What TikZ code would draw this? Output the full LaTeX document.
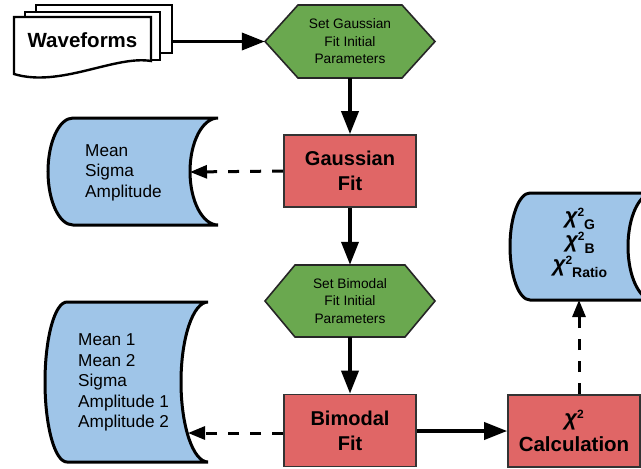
\documentclass[tikz,border=0pt]{standalone}
\usepackage{fontspec}
\setmainfont{Liberation Sans}
\usetikzlibrary{arrows.meta}
\definecolor{sblue}{HTML}{9FC5E8}
\definecolor{sred}{HTML}{E06666}
\definecolor{sgreen}{HTML}{6AA84F}
\newcommand\chisym{{\fontsize{22}{22}\selectfont\bfseries\itshape χ}}
\newcommand\chisup{\raisebox{7.5pt}{\fontsize{12}{12}\selectfont 2}}
\newcommand\chisub[1]{\raisebox{-6pt}{\fontsize{14}{14}\selectfont\bfseries #1}}
\begin{document}
\begin{tikzpicture}[x=1pt,y=-1pt,
  conn/.style={line width=3.6pt, -{Triangle[length=23pt,width=17pt]}},
  dconn/.style={line width=3pt, dash pattern=on 11pt off 11pt, -{Triangle[length=17pt,width=13pt]}},
  procbox/.style={draw=black!80, line width=1.6pt, fill=sred, minimum width=132pt, minimum height=72pt, inner sep=0pt, align=center, font=\fontsize{20}{25}\selectfont\bfseries},
  hexshape/.style={draw=black!85, line width=1.6pt, fill=sgreen},
  hexlabel/.style={minimum width=170pt, minimum height=73pt, inner sep=0pt, align=center, font=\fontsize{13.7}{17.5}\selectfont},
  store/.style={draw=black, line width=3pt, fill=sblue},
  storetext/.style={inner sep=0pt, align=left, anchor=west, font=\fontsize{17.2}{20.5}\selectfont},
  doc/.style={draw=black, line width=2.4pt, fill=white},
]
\useasboundingbox (0,0) rectangle (641,469);

% Waveforms stack
\draw[doc] (36,5) rectangle (172,53);
\draw[doc] (25,12) rectangle (160,60);
\draw[doc] (14,17) -- (151,17) -- (151,61) .. controls (115,55) and (60,88) .. (14,74) -- cycle;
\node[inner sep=0pt] (wave) at (82.5,40) {\fontsize{20.5}{20.5}\selectfont\bfseries Waveforms};
\coordinate (waveout) at (172,41.5);

% Hexagons
\draw[hexshape] (265,41.5) -- (298,5) -- (402,5) -- (435,41.5) -- (402,78) -- (298,78) -- cycle;
\node[hexlabel] (hex1) at (350,41.5) {Set Gaussian\\Fit Initial\\Parameters};
\draw[hexshape] (265,301) -- (295,265) -- (405,265) -- (435,301) -- (405,337) -- (295,337) -- cycle;
\node[hexlabel, minimum height=72pt] (hex2) at (350,301) {Set Bimodal\\Fit Initial\\Parameters};

% Process boxes
\node[procbox] (gauss) at (350,171) {Gaussian\\Fit};
\node[procbox] (bimodal) at (350,430.5) {Bimodal\\Fit};
\node[procbox, font=\fontsize{20.5}{26}\selectfont\bfseries] (calc) at (574,431) {\chisym\chisup\\Calculation};

% Storage 1
\draw[store] (73,118) -- (218,118) .. controls (202.5,118) and (190,142) .. (190,171.5) .. controls (190,201) and (202.5,225) .. (218,225) -- (73,225) .. controls (59.2,225) and (48,201) .. (48,171.5) .. controls (48,142) and (59.2,118) .. (73,118) -- cycle;
\node[storetext] (s1text) at (85,172.5) {Mean\\Sigma\\Amplitude};
\coordinate (s1in) at (190,172);

% Storage 2
\draw[store] (67,302) -- (208,302) .. controls (193.1,302) and (181,337.8) .. (181,382) .. controls (181,426.2) and (193.1,462) .. (208,462) -- (67,462) .. controls (54.8,462) and (45,426.2) .. (45,382) .. controls (45,337.8) and (54.8,302) .. (67,302) -- cycle;
\node[storetext] (s2text) at (78,382.5) {Mean 1\\Mean 2\\Sigma\\Amplitude 1\\Amplitude 2};
\coordinate (s2in) at (188,433);

% Storage 3
\begin{scope}
\clip (0,0) rectangle (641,469);
\draw[store] (530,193) -- (653,193) .. controls (639.2,193) and (628,217) .. (628,246.5) .. controls (628,276) and (639.2,300) .. (653,300) -- (530,300) .. controls (519,300) and (510,276) .. (510,246.5) .. controls (510,217) and (519,193) .. (530,193) -- cycle;
\end{scope}
\node[inner sep=0pt, align=center, font=\fontsize{20}{24}\selectfont\bfseries] (s3text) at (580,243) {\chisym\chisup\chisub{G}\\\chisym\chisup\chisub{B}\\\chisym\chisup\chisub{Ratio}};
\coordinate (s3in) at (579,300);

% Connectors
\draw[conn] (waveout) -- (hex1.west);
\draw[conn] (hex1.south) -- (gauss.north);
\draw[conn] (gauss.south) -- (hex2.north);
\draw[conn] (hex2.south) -- (bimodal.north);
\draw[conn] (bimodal.east |- calc.west) -- (calc.west);
\draw[dconn] (gauss.west) -- (s1in);
\draw[dconn] (bimodal.west |- s2in) -- (s2in);
\draw[dconn] (calc.north -| s3in) -- (s3in);
\end{tikzpicture}
\end{document}
